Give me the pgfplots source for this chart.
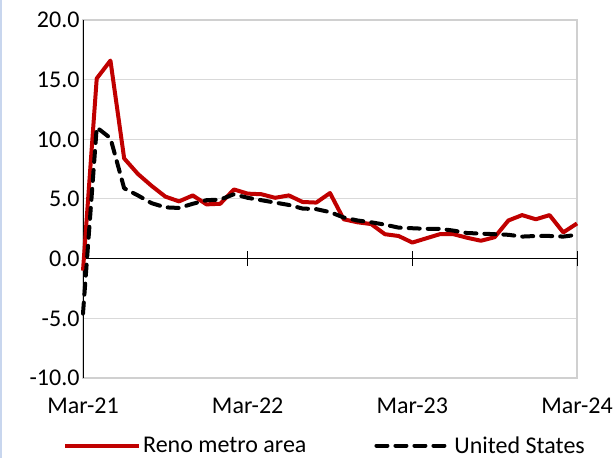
\documentclass[border=0pt]{standalone}
\usepackage{pgfplots}
\pgfplotsset{compat=1.18}
\usepackage{fontspec}
\setmainfont{Carlito}
\definecolor{renored}{RGB}{192,0,0}
\definecolor{gridgray}{RGB}{217,217,217}
\definecolor{framegray}{RGB}{208,208,208}
\definecolor{edgeblue}{RGB}{200,214,238}

% monthly values, m = 0 is Mar-21
\pgfplotstableread{
m reno us
0 -1.0 -4.6
1 15.1 11.0
2 16.6 10.1
3 8.4 5.9
4 7.1 5.3
5 6.1 4.65
6 5.2 4.3
7 4.8 4.25
8 5.3 4.6
9 4.55 4.9
10 4.6 4.95
11 5.8 5.4
12 5.45 5.1
13 5.4 4.9
14 5.1 4.7
15 5.3 4.5
16 4.75 4.2
17 4.7 4.15
18 5.5 3.9
19 3.3 3.45
20 3.05 3.2
21 2.9 3.05
22 2.05 2.85
23 1.9 2.6
24 1.35 2.55
25 1.7 2.5
26 2.05 2.5
27 2.05 2.35
28 1.75 2.15
29 1.5 2.1
30 1.8 2.05
31 3.2 2.0
32 3.65 1.85
33 3.3 1.9
34 3.65 1.9
35 2.2 1.85
36 2.95 2.0
}\prices

\begin{document}
\begin{tikzpicture}[font=\fontsize{24bp}{29bp}\selectfont]
\begin{axis}[
    scale only axis,
    width=494bp, height=358bp,
    xmin=0, xmax=36, ymin=-10, ymax=20,
    xtick={0,12,24,36},
    xticklabels={Mar-21,Mar-22,Mar-23,Mar-24},
    ytick={-10,-5,0,5,10,15,20},
    yticklabel style={/pgf/number format/fixed, /pgf/number format/fixed zerofill,
        /pgf/number format/precision=1, /pgf/number format/assume math mode=true,
        font=\fontsize{24bp}{29bp}\selectfont},
    xticklabel style={font=\fontsize{24bp}{29bp}\selectfont, yshift=-16bp},
    major tick length=0pt,
    ymajorgrids,
    grid style={gridgray, line width=1bp},
    axis line style={framegray, line width=1.3bp},
    clip=false,
    legend columns=2,
    legend style={at={(242bp,-67.5bp)}, anchor=center, draw=none, fill=none,
        font=\fontsize{24bp}{29bp}\selectfont, inner sep=0pt,
        /tikz/every even column/.append style={column sep=66bp}},
    legend cell align=left,
    legend image code/.code={\draw[#1] (0bp,0bp) -- (74bp,0bp);},
]
\draw[black, line width=1bp] (axis cs:0,-10) -- (axis cs:0,20);
\draw[black, line width=1bp] (axis cs:0,0) -- (axis cs:36,0);
\pgfplotsinvokeforeach{12,24,36}{
  \draw[black, line width=1bp] (axis cs:#1,-0.63) -- (axis cs:#1,0.63);
}
\addplot[renored, line width=4bp, line join=round] table[x=m, y=reno] {\prices};
\addlegendentry{Reno metro area}
\addplot[black, line width=4bp, line cap=round, dash pattern=on 11bp off 8bp, line join=round] table[x=m, y=us] {\prices};
\addlegendentry{United States}
\end{axis}
\pgfresetboundingbox
\path[use as bounding box] (-83bp,-80bp) rectangle (532bp,378bp);
\fill[edgeblue] (-83bp,-80bp) rectangle (-81bp,378bp);
\end{tikzpicture}
\end{document}
